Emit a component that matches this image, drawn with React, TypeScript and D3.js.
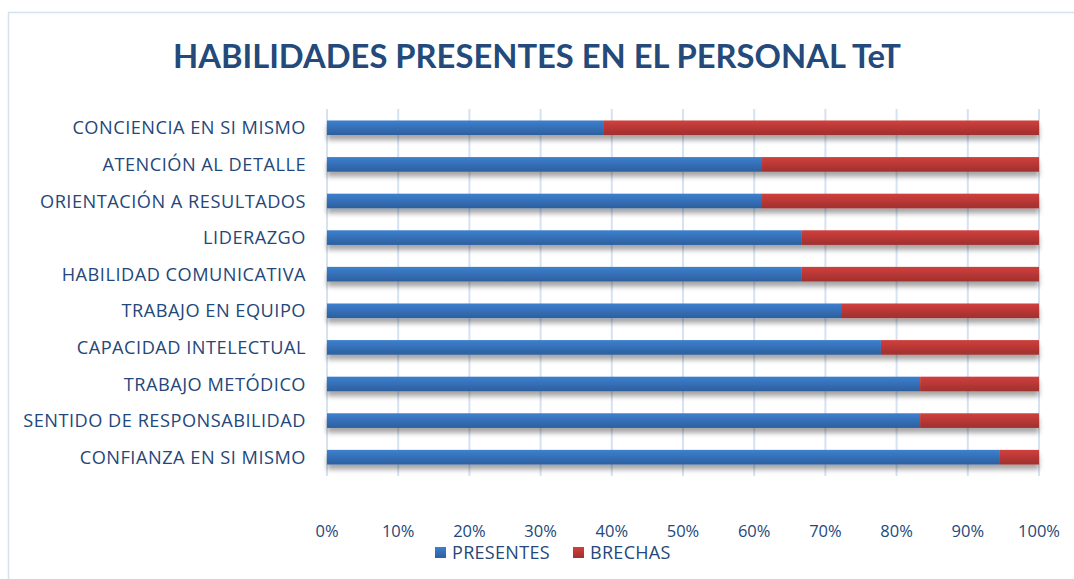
import React from "react";
import * as d3 from "d3";

const categories = [
  "CONCIENCIA EN SI MISMO",
  "ATENCIÓN AL DETALLE",
  "ORIENTACIÓN A RESULTADOS",
  "LIDERAZGO",
  "HABILIDAD COMUNICATIVA",
  "TRABAJO EN EQUIPO",
  "CAPACIDAD INTELECTUAL",
  "TRABAJO METÓDICO",
  "SENTIDO DE RESPONSABILIDAD",
  "CONFIANZA EN SI MISMO",
];
const presentes = [38.9, 61.1, 61.1, 66.7, 66.7, 72.2, 77.8, 83.3, 83.3, 94.4];
const brechas = [61.1, 38.9, 38.9, 33.3, 33.3, 27.8, 22.2, 16.7, 16.7, 5.6];
const xTicks = [0, 10, 20, 30, 40, 50, 60, 70, 80, 90, 100];
const seriesNames = ["PRESENTES", "BRECHAS"];

const W = 1074;
const H = 579;
const TEXT = "#24477a";

export default function App() {
  const x = d3.scaleLinear().domain([0, 100]).range([327, 1039]);
  const y = d3
    .scaleBand<string>()
    .domain(categories)
    .range([109.5, 475.5])
    .paddingInner(0.6)
    .paddingOuter(0.3);
  const bw = y.bandwidth();
  const font = "'Open Sans', 'Liberation Sans', sans-serif";

  return (
    <svg
      width={W}
      height={H}
      style={{ position: "absolute", left: 0, top: 0, background: "#fff" }}
    >
      <defs>
        <linearGradient id="gBlue" x1="0" y1="0" x2="0" y2="1">
          <stop offset="0" stopColor="#3d80cf" />
          <stop offset="1" stopColor="#2d5f9e" />
        </linearGradient>
        <linearGradient id="gRed" x1="0" y1="0" x2="0" y2="1">
          <stop offset="0" stopColor="#d0403d" />
          <stop offset="1" stopColor="#a02f2e" />
        </linearGradient>
        <filter id="shadow" x="-5%" y="-50%" width="110%" height="250%">
          <feDropShadow dx="0" dy="5" stdDeviation="2.5" floodColor="#000" floodOpacity="0.35" />
        </filter>
      </defs>
      <rect x={8.5} y={12.5} width={1200} height={700} fill="#fff" stroke="#d4e2f2" strokeWidth={1.5} />

      <text
        x={537}
        y={68}
        textAnchor="middle"
        fontFamily="Lato, 'Open Sans', sans-serif"
        fontWeight={700}
        fontSize={32}
        fill="#234a7b"
        textLength={728}
        lengthAdjust="spacingAndGlyphs"
      >
        HABILIDADES PRESENTES EN EL PERSONAL TeT
      </text>

      {xTicks.map((t) => (
        <line
          key={"g" + t}
          x1={x(t)}
          x2={x(t)}
          y1={109}
          y2={476}
          stroke="#d5e2f2"
          strokeWidth={2}
        />
      ))}

      {categories.map((c, i) => {
        const yy = y(c)!;
        return (
          <g key={c} filter="url(#shadow)">
            <rect x={x(0)} y={yy} width={x(presentes[i]) - x(0)} height={bw} fill="url(#gBlue)" />
            <rect
              x={x(presentes[i])}
              y={yy}
              width={x(presentes[i] + brechas[i]) - x(presentes[i])}
              height={bw}
              fill="url(#gRed)"
            />
          </g>
        );
      })}

      {categories.map((c) => (
        <text
          key={"l" + c}
          x={306}
          y={y(c)! + bw / 2}
          dy="0.36em"
          textAnchor="end"
          fontFamily={font}
          fontSize={18.2}
          letterSpacing={0.5}
          fill={TEXT}
        >
          {c}
        </text>
      ))}

      {xTicks.map((t) => (
        <text
          key={"t" + t}
          x={x(t)}
          y={531}
          dy="0.36em"
          textAnchor="middle"
          fontFamily={font}
          fontSize={16.5}
          fill={TEXT}
        >
          {t + "%"}
        </text>
      ))}

      <g>
        <rect x={435} y={547} width={11} height={11} fill="url(#gBlue)" />
        <text x={452} y={552.5} dy="0.36em" fontFamily={font} fontSize={18} letterSpacing={0.3} fill={TEXT}>
          {seriesNames[0]}
        </text>
        <rect x={573} y={547} width={11} height={11} fill="url(#gRed)" />
        <text x={590} y={552.5} dy="0.36em" fontFamily={font} fontSize={18} letterSpacing={0.3} fill={TEXT}>
          {seriesNames[1]}
        </text>
      </g>
    </svg>
  );
}
